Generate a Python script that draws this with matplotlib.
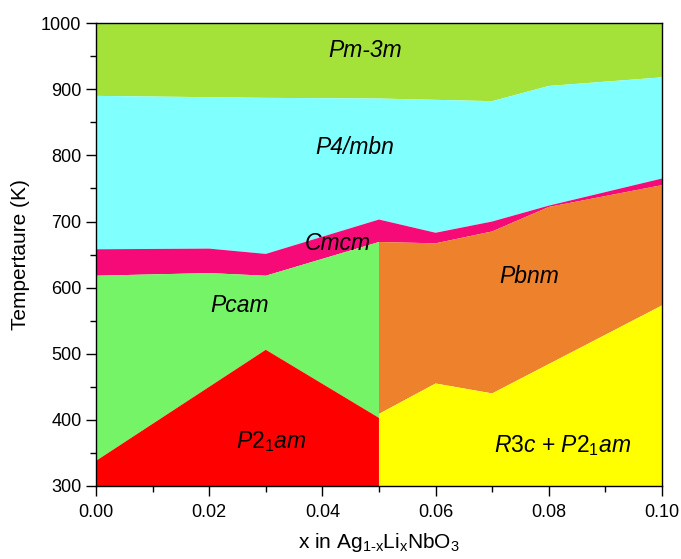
import matplotlib.pyplot as plt
from matplotlib.ticker import MultipleLocator, FormatStrFormatter

plt.rcParams['font.family'] = ['Liberation Sans', 'DejaVu Sans']
plt.rcParams['mathtext.fontset'] = 'custom'
plt.rcParams['mathtext.rm'] = 'Liberation Sans'
plt.rcParams['mathtext.it'] = 'Liberation Sans:italic'

# composition grid
x_all = [0.00, 0.02, 0.03, 0.05, 0.06, 0.07, 0.08, 0.10]
x_left = [0.00, 0.02, 0.03, 0.05]
x_right = [0.05, 0.06, 0.07, 0.08, 0.10]
x_red = [0.00, 0.03, 0.05]
x_yellow = [0.05, 0.06, 0.07, 0.10]

# phase boundaries (K)
cubic_low = [890, 888, 887, 886, 884, 882, 905, 918]       # Pm-3m / P4/mbn
tetra_low = [658, 659, 651, 703, 683, 700, 724, 765]       # P4/mbn / Cmcm
pcam_top = [618, 622, 618, 669]                            # Cmcm / Pcam
pbnm_top = [669, 667, 685, 722, 755]                       # Cmcm / Pbnm
p21am_top = [338, 506, 403]                                # Pcam / P2_1am
r3c_top = [409, 455, 440, 573]                             # Pbnm / R3c+P2_1am

t_min, t_max = 300, 1000

colors = {
    'Pm-3m': '#a4e23a',
    'P4/mbn': '#80ffff',
    'Cmcm': '#f50a78',
    'Pcam': '#76f468',
    'P21am': '#ff0000',
    'Pbnm': '#ee812c',
    'R3c': '#ffff00',
}


def band(ax, xs_low, low, xs_high, high, color):
    # closed polygon between a lower and an upper boundary
    px = list(xs_low) + list(xs_high)[::-1]
    py = list(low) + list(high)[::-1]
    ax.fill(px, py, color=color, lw=0)


fig = plt.figure(figsize=(6.81, 5.59), dpi=100)
ax = fig.add_axes([0.141, 0.1306, 0.831, 0.828])

band(ax, x_all, cubic_low, [0, 0.1], [t_max, t_max], colors['Pm-3m'])
band(ax, x_all, tetra_low, x_all, cubic_low, colors['P4/mbn'])
band(ax, x_left + x_right[1:], pcam_top + pbnm_top[1:], x_all, tetra_low, colors['Cmcm'])
band(ax, x_red, p21am_top, x_left, pcam_top, colors['Pcam'])
band(ax, [0, 0.05], [t_min, t_min], x_red, p21am_top, colors['P21am'])
band(ax, x_yellow, r3c_top, x_right, pbnm_top, colors['Pbnm'])
band(ax, [0.05, 0.1], [t_min, t_min], x_yellow, r3c_top, colors['R3c'])

fs = 16.5
ax.text(0.0475, 958, 'Pm-3m', style='italic', fontsize=fs, ha='center', va='center')
ax.text(0.0458, 812, 'P4/mbn', style='italic', fontsize=fs, ha='center', va='center')
ax.text(0.0428, 667, 'Cmcm', style='italic', fontsize=fs, ha='center', va='center')
ax.text(0.0254, 573, 'Pcam', style='italic', fontsize=fs, ha='center', va='center')
ax.text(0.031, 367, r'$\mathit{P2_1am}$', fontsize=fs, ha='center', va='center')
ax.text(0.0765, 617, 'Pbnm', style='italic', fontsize=fs, ha='center', va='center')
ax.text(0.0825, 361, r'$\mathit{R3c}$ + $\mathit{P2_1am}$', fontsize=fs,
        ha='center', va='center')

ax.set_xlim(0, 0.1)
ax.set_ylim(t_min, t_max)
ax.xaxis.set_major_locator(MultipleLocator(0.02))
ax.xaxis.set_minor_locator(MultipleLocator(0.01))
ax.xaxis.set_major_formatter(FormatStrFormatter('%.2f'))
ax.yaxis.set_major_locator(MultipleLocator(100))
ax.yaxis.set_minor_locator(MultipleLocator(50))
ax.tick_params(which='major', direction='out', length=7, width=1, labelsize=13)
ax.tick_params(axis='x', which='major', pad=6)
ax.tick_params(which='minor', direction='out', length=4, width=1)

ax.set_xlabel(r'x in Ag$_{\mathrm{1\text{-}x}}$Li$_{\mathrm{x}}$NbO$_{\mathrm{3}}$',
              fontsize=15, labelpad=7)
ax.set_ylabel('Tempertaure (K)', fontsize=15, labelpad=8)
for s in ax.spines.values():
    s.set_linewidth(1)

fig.savefig('out.png', dpi=100)
